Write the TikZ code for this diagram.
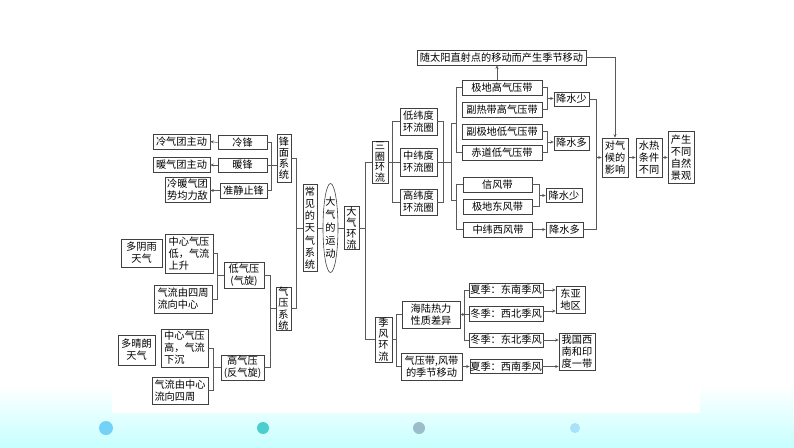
\documentclass[tikz,border=0pt]{standalone}
\usepackage{fontspec}
\newfontfamily\cjk{Noto Sans CJK SC}
\usetikzlibrary{arrows.meta,shapes.geometric,calc}
\begin{document}
\begin{tikzpicture}[x=1pt,y=-1pt,
  every node/.style={font=\cjk\fontsize{10.2}{12}\selectfont},
  bx/.style={draw=black!75, line width=0.6pt, inner sep=0pt, align=center, fill=white, text=black},
  vt/.style={bx, font=\cjk\fontsize{10.2}{11.2}\selectfont},
  ln/.style={draw=black!65, line width=0.6pt},
  arr/.style={ln, -{Stealth[length=3.5pt,width=3pt]}},
]
% background
\useasboundingbox (0,0) rectangle (794,447);
\fill[white] (0,0) rectangle (794,447);
\shade[top color=white, bottom color=cyan!22] (0,385) rectangle (794,447);
\fill[white] (112,0) rectangle (700,413);
\fill[cyan!55] (106,428) circle (7);
\fill[teal!55!cyan!70] (263,428) circle (6);
\fill[cyan!35!gray!70] (419,428) circle (6);
\fill[cyan!35] (575,428) circle (5);

% frontal system
\node[bx,minimum width=57,minimum height=15] (lqtzd) at (181.5,141.5) {冷气团主动};
\node[bx,minimum width=49,minimum height=14] (lf) at (242.5,142.5) {冷锋};
\node[bx,minimum width=57,minimum height=15] (nqtzd) at (181.5,165) {暖气团主动};
\node[bx,minimum width=49,minimum height=14] (nf) at (242.5,165) {暖锋};
\node[bx,minimum width=45,minimum height=25] (lnqt) at (187.5,189.5) {冷暖气团\\势均力敌};
\node[bx,minimum width=47,minimum height=15] (zjzf) at (243.5,190.5) {准静止锋};
\node[vt,minimum width=14,minimum height=48] (fmxt) at (284,158) {锋\\面\\系\\统};

% pressure systems
\node[bx,minimum width=41,minimum height=28] (dyty) at (141.5,253) {多阴雨\\天气};
\node[bx,minimum width=48,minimum height=39,align=left] (zxdy) at (189,253.5) {中心气压\\低，气流\\上升};
\node[bx,minimum width=58,minimum height=28,align=left] (qlsz) at (183,299) {气流由四周\\流向中心};
\node[bx,minimum width=40,minimum height=26] (dqy) at (244,275) {低气压\\(气旋)};
\node[vt,minimum width=15,minimum height=43] (qyxt) at (283.5,308.5) {气\\压\\系\\统};
\node[bx,minimum width=37,minimum height=30] (dqqt) at (136.5,350) {多晴朗\\天气};
\node[bx,minimum width=47,minimum height=38,align=left] (zxgy) at (184.5,348) {中心气压\\高，气流\\下沉};
\node[bx,minimum width=56,minimum height=27,align=left] (qlzx) at (180,390.5) {气流由中心\\流向四周};
\node[bx,minimum width=43,minimum height=25] (gqy) at (242.5,367.5) {高气压\\(反气旋)};

% centre
\node[vt,minimum width=14,minimum height=87,font=\cjk\fontsize{10.2}{12.2}\selectfont] (cjtq) at (310,228) {常\\见\\的\\天\\气\\系\\统};
\node[ellipse,draw=black!75,line width=0.6pt,inner sep=0pt,minimum width=15,minimum height=89,align=center,font=\cjk\fontsize{10.2}{13}\selectfont] (ell) at (330.5,228) {大\\气\\的\\运\\动};
\node[vt,minimum width=15,minimum height=43] (dqhl) at (351.5,228) {大\\气\\环\\流};

% three cells
\node[vt,minimum width=16,minimum height=42,font=\cjk\fontsize{10.2}{10.5}\selectfont] (sqhl) at (380,162) {三\\圈\\环\\流};
\node[bx,minimum width=37,minimum height=27] (dwd) at (418.5,121.5) {低纬度\\环流圈};
\node[bx,minimum width=37,minimum height=28] (zwd) at (418.5,162) {中纬度\\环流圈};
\node[bx,minimum width=37,minimum height=26] (gwd) at (418.5,202) {高纬度\\环流圈};

\node[bx,minimum width=169,minimum height=15] (sy) at (501.5,57.5) {随太阳直射点的移动而产生季节移动};
\node[bx,minimum width=80,minimum height=15] (jdg) at (502,87.5) {极地高气压带};
\node[bx,minimum width=80,minimum height=15] (frd) at (502,109.5) {副热带高气压带};
\node[bx,minimum width=80,minimum height=15] (fjd) at (502,131.5) {副极地低气压带};
\node[bx,minimum width=80,minimum height=15] (cd) at (502,152.5) {赤道低气压带};
\node[bx,minimum width=35,minimum height=14] (js1) at (571.5,99) {降水少};
\node[bx,minimum width=35,minimum height=14] (jsd1) at (571.5,143) {降水多};

\node[bx,minimum width=69,minimum height=15] (xfd) at (497.5,184.5) {信风带};
\node[bx,minimum width=69,minimum height=15] (jddf) at (497.5,206.5) {极地东风带};
\node[bx,minimum width=69,minimum height=15] (zwxf) at (498,229.5) {中纬西风带};
\node[bx,minimum width=36,minimum height=14] (js2) at (564,195.5) {降水少};
\node[bx,minimum width=37,minimum height=15] (jsd2) at (564.5,229.5) {降水多};

\node[bx,minimum width=26,minimum height=39] (dqh) at (615,157.5) {对气\\候的\\影响};
\node[bx,minimum width=26,minimum height=39] (srtj) at (649,157.5) {水热\\条件\\不同};
\node[bx,minimum width=26,minimum height=52] (cs) at (681,157.5) {产生\\不同\\自然\\景观};

% monsoon
\node[vt,minimum width=17,minimum height=45] (jfhl) at (383.5,339.5) {季\\风\\环\\流};
\node[bx,minimum width=58,minimum height=27] (hl) at (431,314.5) {海陆热力\\性质差异};
\node[bx,minimum width=61,minimum height=27] (qyd) at (431.5,366.5) {气压带,风带\\的季节移动};
\node[bx,minimum width=74,minimum height=14] (xjdn) at (506,290) {夏季：东南季风};
\node[bx,minimum width=74,minimum height=15] (djxb) at (506,314) {冬季：西北季风};
\node[bx,minimum width=74,minimum height=14] (djdb) at (506,340) {冬季：东北季风};
\node[bx,minimum width=72,minimum height=14] (xjxn) at (506,366.5) {夏季：西南季风};
\node[bx,minimum width=29,minimum height=27] (dy) at (570.5,299.5) {东亚\\地区};
\node[bx,minimum width=36,minimum height=37] (xn) at (577,351.5) {我国西\\南和印\\度一带};

% ---- connectors ----
% frontal
\draw[arr] (lf.west) -- (lqtzd.east);
\draw[arr] (nf.west) -- (nqtzd.east);
\draw[arr] (zjzf.west) -- (zjzf.west -| lnqt.east);
\draw[ln] (lf.east) -- ++(4,0) |- (zjzf.east);
\draw[ln] (nf.east) -- (nf.east -| fmxt.west);
% pressure
\draw[ln] (zxdy.east) -- ++(4,0) |- (qlsz.east);
\draw[ln] (dqy.west) -- ++(-7,0);
\draw[ln] (dqy.east) -- ++(6,0) coordinate (pv) |- (gqy.east);
\draw[ln] (qyxt.west) -- (qyxt.west -| pv);
\draw[ln] (zxgy.east) -- ++(5,0) |- (qlzx.east);
\draw[ln] (gqy.west) -- ++(-8,0);
% centre
\draw[ln] (fmxt.east) -- ++(5,0) |- (qyxt.east);
\draw[ln] (cjtq.west) -- ++(-7,0);
\draw[ln] (cjtq.east) -- (ell.west);
\draw[ln] (ell.east) -- (dqhl.west);
\draw[ln] (dqhl.east) -- ++(7,0);
\draw[ln] (sqhl.west) -- ++(-6,0) |- (jfhl.west);
% three cells
\draw[ln] (sqhl.east) -- (zwd.west);
\draw[ln] (dwd.west) -- ++(-7,0) |- (gwd.west);
\draw[ln] (dwd.east) -- ++(6,0) |- (gwd.east);
\draw[ln] (zwd.east) -- ++(14,0);
\coordinate (ja) at (451,123);
\coordinate (jb) at (451,200);
\draw[ln] ($(ja)+(6,0)$) -- (ja) -- (jb) -- ++(6,0);
\draw[ln] (jdg.west) -- ++(-5,0) |- (cd.west);
\draw[ln] (xfd.west) -- ++(-6,0) |- (zwxf.west);
\draw[ln] (jdg.east) -- ++(5,0) |- (frd.east);
\draw[arr] ($(jdg.east)!0.5!(frd.east)+(5,0)$) coordinate (m1) -- (m1 -| js1.west);
\draw[ln] (fjd.east) -- ++(5,0) |- (cd.east);
\draw[arr] ($(fjd.east)!0.5!(cd.east)+(5,0)$) coordinate (m2) -- (m2 -| jsd1.west);
\draw[ln] (xfd.east) -- ++(7,0) |- (jddf.east);
\draw[arr] ($(xfd.east)!0.5!(jddf.east)+(7,0)$) coordinate (m3) -- (m3 -| js2.west);
\draw[arr] (zwxf.east) -- (zwxf.east -| jsd2.west);
\draw[ln] (js1.east) -- ++(7,0) coordinate (cl) |- (jsd2.east);
\draw[arr] (cl |- dqh.west) -- (dqh.west);
\draw[arr] (dqh.east) -- (srtj.west);
\draw[arr] (srtj.east) -- (cs.west);
\draw[arr] (sy.east) -| (dqh.north);
\path ([xshift=-5pt]jdg.north) coordinate (jn);
\draw[arr] (jn) -- (jn |- sy.south);
% monsoon
\draw[ln] (jfhl.east) -- ++(5,0);
\draw[ln] (hl.west) -- ++(-5,0) |- (qyd.west);
\draw[arr] (hl.east) -- ++(5,0);
\draw[ln] (xjdn.west) -- ++(-4,0) |- (djdb.west);
\draw[ln] (djxb.west) -- ++(-4,0);
\draw[arr] (qyd.east) -- (xjxn.west);
\draw[arr] (xjdn.east) -- (xjdn.east -| dy.west);
\draw[arr] ([yshift=3pt]djxb.east) coordinate (t1) -- (t1 -| dy.west);
\draw[arr] (djdb.east) -- (djdb.east -| xn.west);
\draw[arr] (xjxn.east) -- (xjxn.east -| xn.west);
\end{tikzpicture}
\end{document}
